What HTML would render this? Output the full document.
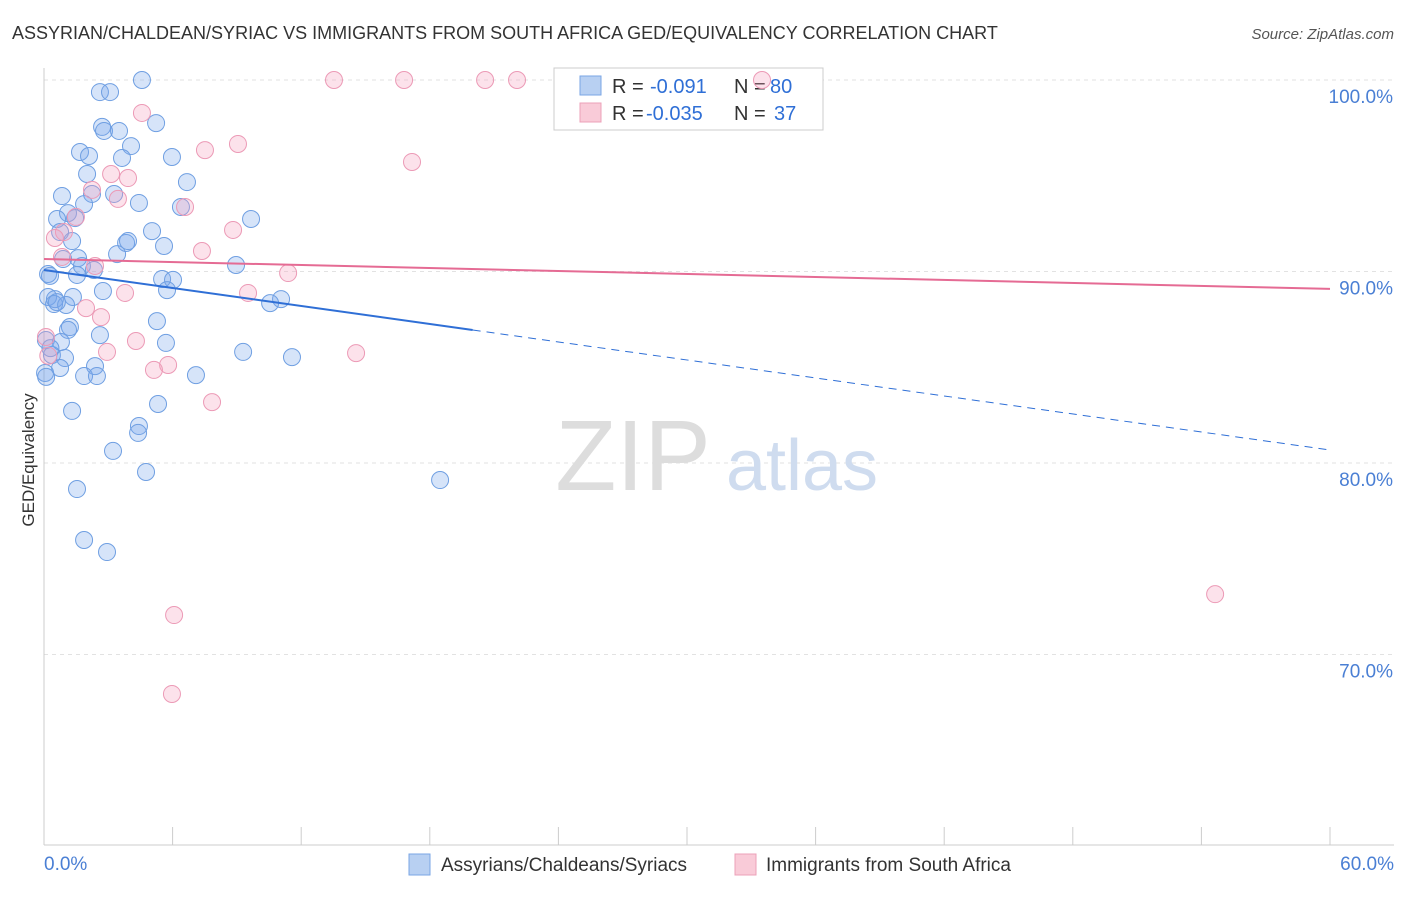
<!DOCTYPE html>
<html><head><meta charset="utf-8"><style>
body{margin:0;background:#fff;font-family:"Liberation Sans",sans-serif;}
svg text{font-family:"Liberation Sans",sans-serif;}
</style></head><body>
<svg id="chart" width="1406" height="892">
<text x="12" y="39" font-size="18" fill="#333">ASSYRIAN/CHALDEAN/SYRIAC VS IMMIGRANTS FROM SOUTH AFRICA GED/EQUIVALENCY CORRELATION CHART</text>
<text x="1394" y="39" font-size="15" fill="#555" text-anchor="end" font-style="italic">Source: ZipAtlas.com</text>
<g id="grid"></g>
<text x="633" y="490" font-size="100" fill="#ddd" font-family="Liberation Serif" text-anchor="middle">ZIP</text>
<text x="802" y="490" font-size="72" fill="#cfdcef" text-anchor="middle">atlas</text>
<g>
<rect x="554" y="68" width="269" height="62" fill="#fff" stroke="#ccc"/>
<rect x="580" y="76" width="21" height="19" fill="#b8d0f2" stroke="#7aa6e4"/>
<text x="612" y="93" font-size="20" fill="#333">R =</text><text x="650" y="93" font-size="20" fill="#2f6fd6">-0.091</text>
<text x="734" y="93" font-size="20" fill="#333">N =</text><text x="770" y="93" font-size="20" fill="#2f6fd6">80</text>
<rect x="580" y="103" width="21" height="19" fill="#f9cbd8" stroke="#eca0b8"/>
<text x="612" y="120" font-size="20" fill="#333">R =</text><text x="646" y="120" font-size="20" fill="#2f6fd6">-0.035</text>
<text x="734" y="120" font-size="20" fill="#333">N =</text><text x="774" y="120" font-size="20" fill="#2f6fd6">37</text>
</g>
<g id="points"></g>
<g id="trends"></g>
<text x="34" y="460" font-size="17" fill="#333" text-anchor="middle" transform="rotate(-90 34 460)">GED/Equivalency</text>
<g>
<rect x="409" y="854" width="21" height="21" fill="#b8d0f2" stroke="#7aa6e4"/>
<text x="441" y="871" font-size="19" fill="#333">Assyrians/Chaldeans/Syriacs</text>
<rect x="735" y="854" width="21" height="21" fill="#f9cbd8" stroke="#eca0b8"/>
<text x="766" y="871" font-size="19" fill="#333">Immigrants from South Africa</text>
</g>
</svg>
<script>
const yTicks=[100,90,80,70];
const yTickLabels=["100.0%","90.0%","80.0%","70.0%"];
const xTickLabels=["0.0%","60.0%"];
const blueX=[4.57,2.61,3.08,5.23,2.71,2.80,3.50,4.06,1.68,2.10,5.97,3.64,2.01,6.67,0.84,2.24,3.27,4.43,1.87,6.39,1.12,0.61,1.45,9.66,5.04,0.75,1.31,3.83,3.92,5.60,3.41,1.59,0.89,8.96,1.77,2.33,0.19,0.28,1.54,5.51,6.02,5.74,2.75,0.19,0.51,1.35,11.06,10.55,0.47,1.03,5.27,1.21,1.12,2.61,0.09,0.79,5.69,9.29,11.57,0.37,0.98,2.38,0.75,0.05,1.87,2.47,7.09,5.32,1.31,4.43,4.39,3.22,4.76,18.48,1.54,1.87,2.94,0.1,0.3,0.6];
const blueY=[100,99.37,99.37,97.75,97.55,97.34,97.34,96.55,96.24,96.03,95.98,95.93,95.09,94.67,93.94,94.05,94.05,93.58,93.52,93.37,93.05,92.74,92.79,92.74,92.11,92.06,91.59,91.49,91.59,91.33,90.91,90.70,90.65,90.34,90.29,90.08,89.87,89.77,89.82,89.61,89.56,89.03,88.98,88.67,88.56,88.67,88.56,88.35,88.30,88.25,87.41,87.10,86.95,86.68,86.42,86.32,86.27,85.80,85.53,85.64,85.48,85.06,84.96,84.70,84.54,84.54,84.59,83.08,82.72,81.93,81.57,80.63,79.53,79.11,78.64,75.98,75.35,84.5,86.0,88.4];
const pinkX=[13.53,16.8,20.58,22.07,33.5,4.57,9.05,7.51,17.17,3.13,3.92,2.24,3.45,6.58,1.49,8.82,0.93,0.51,7.37,0.84,2.38,11.39,3.78,9.52,1.96,2.66,0.09,4.29,2.94,14.56,5.79,5.13,7.84,54.64,6.07,5.97,0.2];
const pinkY=[100,100,100,100,100,98.28,96.66,96.34,95.72,95.09,94.88,94.26,93.79,93.37,92.85,92.17,92.06,91.75,91.07,90.76,90.29,89.92,88.88,88.88,88.09,87.62,86.58,86.37,85.80,85.74,85.12,84.86,83.18,73.15,72.06,67.94,85.6];
const blueTrend=[90.08,80.68];
const blueSolidEnd=20;
const pinkTrend=[90.65,89.09];

const X=v=>44+v/60*1286;
const Y=v=>80+(100-v)*19.15;
const NS="http://www.w3.org/2000/svg";
function mk(tag,attrs,parent){const e=document.createElementNS(NS,tag);for(const k in attrs)e.setAttribute(k,attrs[k]);parent.appendChild(e);return e;}
const grid=document.getElementById('grid');
yTicks.forEach((t,i)=>{
 const l=mk('line',{x1:44,x2:1394,y1:Y(t),y2:Y(t),stroke:'#e2e2e2','stroke-dasharray':'4,4'},grid);
 
 
 const tx=mk('text',{x:1393,y:Y(t)+23,'font-size':19,fill:'#4a7fd4','text-anchor':'end'},grid);
 tx.textContent=yTickLabels[i];
 
 
});
const ax=mk('line',{x1:44,x2:44,y1:68,y2:845,stroke:'#ccc'},grid);


const bx=mk('line',{x1:44,x2:1394,y1:845,y2:845,stroke:'#ccc'},grid);


for(let i=0;i<=10;i++){const v=i*6;const t=mk('line',{x1:X(v),x2:X(v),y1:827,y2:845,stroke:'#ccc'},grid);
 
 }
[[0,'start',44],[60,'end',1394]].forEach((a,i)=>{const t=mk('text',{x:a[2],y:870,'font-size':19,fill:'#4a7fd4','text-anchor':a[1]},grid);t.textContent=xTickLabels[i];
 
 });
const pts=document.getElementById('points');
blueX.forEach((x,i)=>{const c=mk('circle',{cx:X(x),cy:Y(blueY[i]),r:8.5,fill:'rgba(120,165,235,0.3)',stroke:'#6f9fe2','stroke-width':1},pts);
 
 });
pinkX.forEach((x,i)=>{const c=mk('circle',{cx:X(x),cy:Y(pinkY[i]),r:8.5,fill:'rgba(245,160,190,0.3)',stroke:'#ec9ab6','stroke-width':1},pts);
 
 });
const tr=document.getElementById('trends');
const by=x=>blueTrend[0]+(blueTrend[1]-blueTrend[0])*x/60;
const b1=mk('line',{x1:X(0),y1:Y(by(0)),x2:X(blueSolidEnd),y2:Y(by(blueSolidEnd)),stroke:'#2f6fd6','stroke-width':2},tr);


const b2=mk('line',{x1:X(blueSolidEnd),y1:Y(by(blueSolidEnd)),x2:X(60),y2:Y(by(60)),stroke:'#2f6fd6','stroke-width':1,'stroke-dasharray':'8,6'},tr);


const p1=mk('line',{x1:X(0),y1:Y(pinkTrend[0]),x2:X(60),y2:Y(pinkTrend[1]),stroke:'#e56b94','stroke-width':2},tr);


</script>
</body></html>
